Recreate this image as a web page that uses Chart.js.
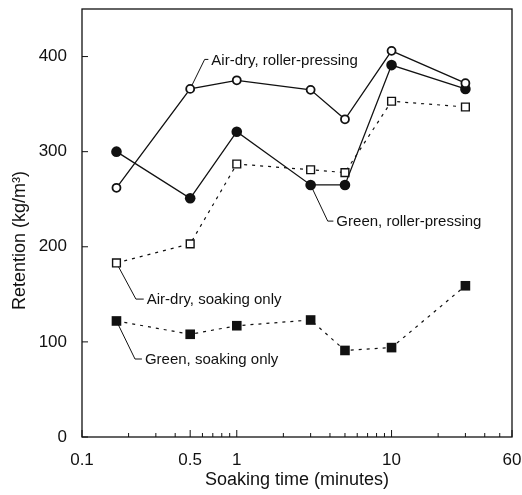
<!DOCTYPE html>
<html>
<head>
<meta charset="utf-8">
<script src="https://cdn.jsdelivr.net/npm/chart.js@4.4.1/dist/chart.umd.min.js"></script>
<style>
  html, body { margin: 0; padding: 0; background: #fff; }
  #wrap { width: 522px; height: 495px; }
</style>
</head>
<body>
<div id="wrap"><canvas id="chart"></canvas></div>
<script>
// soaking time (minutes)
const times = [0.167, 0.5, 1, 3, 5, 10, 30];

// retention (kg/m3)
const airDryRoller = [262, 366, 375, 365, 334, 406, 372];
const greenRoller = [300, 251, 321, 265, 265, 391, 366];
const airDrySoak = [183, 203, 287, 281, 278, 353, 347];
const greenSoak = [122, 108, 117, 123, 91, 94, 159];

const seriesNames = ['Air-dry, roller-pressing', 'Green, roller-pressing', 'Air-dry, soaking only', 'Green, soaking only'];

const xTickValues = [0.1, 0.5, 1, 10, 60];
const xMinorTicks = [0.2, 0.3, 0.4, 0.6, 0.7, 0.8, 0.9, 2, 3, 4, 5, 6, 7, 8, 9, 20, 30, 40, 50];
const yTickValues = [0, 100, 200, 300, 400];

function pts(vals) {
    return times.map((t, i) => ({ x: t, y: vals[i] }));
}

// leader lines: series index, point index, bend point and text start (data units)
const leaders = [
    { ds: 0, pt: 1, bend: [0.62, 397], textX: 0.685 },
    { ds: 1, pt: 3, bend: [3.87, 227], textX: 4.4 },
    { ds: 2, pt: 0, bend: [0.223, 145], textX: 0.262 },
    { ds: 3, pt: 0, bend: [0.22, 82], textX: 0.255 }
];

const FONT = '"Liberation Sans", Arial, sans-serif';

const decor = {
    id: 'decor',
    beforeDatasetsDraw(chart) {
        const { ctx, chartArea: a, scales: { x, y } } = chart;
        ctx.save();
        ctx.strokeStyle = '#111';
        ctx.lineWidth = 1.3;
        ctx.strokeRect(a.left, a.top, a.right - a.left, a.bottom - a.top);

        // inner tick marks
        ctx.lineWidth = 1;
        ctx.beginPath();
        xMinorTicks.forEach(v => {
            const px = x.getPixelForValue(v);
            ctx.moveTo(px, a.bottom);
            ctx.lineTo(px, a.bottom - 4);
        });
        xTickValues.forEach(v => {
            const px = x.getPixelForValue(v);
            ctx.moveTo(px, a.bottom);
            ctx.lineTo(px, a.bottom - 7);
        });
        yTickValues.forEach(v => {
            const py = y.getPixelForValue(v);
            ctx.moveTo(a.left, py);
            ctx.lineTo(a.left + 6, py);
        });
        ctx.stroke();

        // series labels with leader lines
        ctx.lineWidth = 1;
        ctx.fillStyle = '#111';
        ctx.font = '15px ' + FONT;
        ctx.textBaseline = 'middle';
        leaders.forEach(l => {
            const d = chart.data.datasets[l.ds].data[l.pt];
            const bx = x.getPixelForValue(l.bend[0]);
            const by = y.getPixelForValue(l.bend[1]);
            const tx = x.getPixelForValue(l.textX);
            ctx.beginPath();
            ctx.moveTo(x.getPixelForValue(d.x), y.getPixelForValue(d.y));
            ctx.lineTo(bx, by);
            ctx.lineTo(tx - 3, by);
            ctx.stroke();
            ctx.fillText(seriesNames[l.ds], tx, by + 1);
        });
        ctx.restore();
    }
};

new Chart(document.getElementById('chart'), {
    type: 'scatter',
    data: {
        datasets: [
            {
                label: seriesNames[0],
                data: pts(airDryRoller),
                showLine: true,
                borderColor: '#111',
                borderWidth: 1.3,
                pointStyle: 'circle',
                pointRadius: 4,
                pointBorderWidth: 1.8,
                pointBackgroundColor: '#fff',
                pointBorderColor: '#111'
            },
            {
                label: seriesNames[1],
                data: pts(greenRoller),
                showLine: true,
                borderColor: '#111',
                borderWidth: 1.3,
                pointStyle: 'circle',
                pointRadius: 5.3,
                pointBorderWidth: 0,
                pointBackgroundColor: '#111'
            },
            {
                label: seriesNames[2],
                data: pts(airDrySoak),
                showLine: true,
                borderColor: '#111',
                borderWidth: 1.2,
                borderDash: [3, 5],
                pointStyle: 'rect',
                pointRadius: 5.5,
                pointBorderWidth: 1.4,
                pointBackgroundColor: '#fff',
                pointBorderColor: '#111'
            },
            {
                label: seriesNames[3],
                data: pts(greenSoak),
                showLine: true,
                borderColor: '#111',
                borderWidth: 1.2,
                borderDash: [3, 5],
                pointStyle: 'rect',
                pointRadius: 6.8,
                pointBorderWidth: 0,
                pointBackgroundColor: '#111'
            }
        ]
    },
    options: {
        responsive: true,
        maintainAspectRatio: false,
        animation: false,
        layout: { padding: { top: 9, right: 10, left: 0, bottom: 0 } },
        plugins: {
            legend: { display: false },
            tooltip: { enabled: false }
        },
        scales: {
            x: {
                type: 'logarithmic',
                min: 0.1,
                max: 60,
                grid: { display: false },
                border: { display: false },
                afterBuildTicks: s => { s.ticks = xTickValues.map(v => ({ value: v })); },
                afterFit: s => { s.height = 58; s.paddingLeft = 0; s.paddingRight = 0; },
                ticks: {
                    color: '#111',
                    padding: 5,
                    maxRotation: 0,
                    autoSkip: false,
                    font: { family: FONT, size: 17 },
                    callback: v => String(v)
                },
                title: {
                    display: true,
                    text: 'Soaking time (minutes)',
                    color: '#111',
                    padding: { top: 0, bottom: 4 },
                    font: { family: FONT, size: 18 }
                }
            },
            y: {
                min: 0,
                max: 450,
                grid: { display: false },
                border: { display: false },
                afterBuildTicks: s => { s.ticks = yTickValues.map(v => ({ value: v })); },
                afterFit: s => { s.width = 82; s.paddingTop = 0; s.paddingBottom = 0; },
                ticks: {
                    color: '#111',
                    padding: 7,
                    font: { family: FONT, size: 17 }
                },
                title: {
                    display: true,
                    // trailing spaces push the title a little lower, as in the original
                    text: 'Retention (kg/m³)' + '\u00a0'.repeat(7),
                    color: '#111',
                    padding: { top: 9, bottom: 0 },
                    font: { family: FONT, size: 18 }
                }
            }
        }
    },
    plugins: [decor]
});
</script>
</body>
</html>
